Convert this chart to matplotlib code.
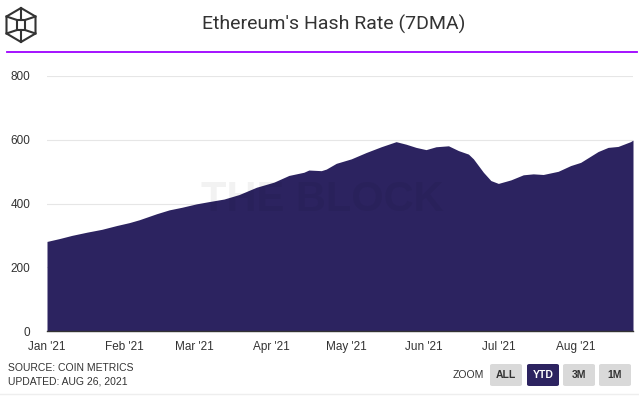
import matplotlib.pyplot as plt
from matplotlib.patches import FancyBboxPatch, Polygon
import pandas as pd

# 7-day moving average of Ethereum hash rate (TH/s)
dates = ["2021-01-01", "2021-01-06", "2021-01-11", "2021-01-17", "2021-01-23",
         "2021-01-29", "2021-02-03", "2021-02-07", "2021-02-14", "2021-02-19",
         "2021-02-24", "2021-03-02", "2021-03-07", "2021-03-13", "2021-03-19",
         "2021-03-26", "2021-04-02", "2021-04-08", "2021-04-14", "2021-04-16",
         "2021-04-21", "2021-04-23", "2021-04-27", "2021-05-03", "2021-05-09",
         "2021-05-15", "2021-05-21", "2021-05-25", "2021-05-29", "2021-06-02",
         "2021-06-06", "2021-06-11", "2021-06-15", "2021-06-19", "2021-06-21",
         "2021-06-25", "2021-06-28", "2021-07-01", "2021-07-06", "2021-07-11",
         "2021-07-15", "2021-07-19", "2021-07-25", "2021-07-30", "2021-08-03",
         "2021-08-10", "2021-08-14", "2021-08-18", "2021-08-23", "2021-08-24"]
hash_rate = [281, 290, 300, 310, 319,
             331, 340, 349, 368, 380,
             388, 399, 406, 414, 428,
             451, 467, 488, 498, 505,
             503, 508, 526, 540, 560,
             578, 594, 586, 576, 569,
             578, 581, 566, 555, 540,
             498, 472, 463, 474, 490,
             493, 491, 501, 519, 529,
             563, 576, 579, 594, 599]

yticks = [0, 200, 400, 600, 800]
month_ticks = ["2021-01-01", "2021-02-01", "2021-03-01", "2021-04-01",
               "2021-05-01", "2021-06-01", "2021-07-01", "2021-08-01"]
month_labels = ["Jan '21", "Feb '21", "Mar '21", "Apr '21",
                "May '21", "Jun '21", "Jul '21", "Aug '21"]

W, H = 639, 396
fill_color = "#2c2360"
text_color = "#333333"

fig = plt.figure(figsize=(W / 100, H / 100), dpi=100)
fig.patch.set_facecolor("white")

# header
fig.text(334 / W, 1 - 24 / H, "Ethereum's Hash Rate (7DMA)", ha="center", va="center",
         fontsize=14, color=text_color, family="Roboto")
fig.add_artist(plt.Line2D([7 / W, 637 / W], [1 - 52 / H, 1 - 52 / H],
                          color="#9d00ff", lw=1.3))

# logo (hexagonal cube outline)
cx, cy, r = 21, 25, 17
hw = 14.5
hexpts = [(cx, cy - r), (cx + hw, cy - r / 2), (cx + hw, cy + r / 2),
          (cx, cy + r), (cx - hw, cy + r / 2), (cx - hw, cy - r / 2)]
fig.add_artist(Polygon([(x / W, 1 - y / H) for x, y in hexpts], closed=True,
                       fill=False, ec="#333333", lw=1.5))
inner = [(cx - 4, cy - 5), (cx + 4, cy - 5), (cx + 4, cy + 5), (cx - 4, cy + 5)]
fig.add_artist(Polygon([(x / W, 1 - y / H) for x, y in inner], closed=True,
                       fill=False, ec="#333333", lw=1.5))
spokes = [(hexpts[0], (cx, cy - 5)), (hexpts[3], (cx, cy + 5)),
          (hexpts[1], (cx + 4, cy - 5)), (hexpts[2], (cx + 4, cy + 5)),
          (hexpts[4], (cx - 4, cy + 5)), (hexpts[5], (cx - 4, cy - 5))]
for (x1, y1), (x2, y2) in spokes:
    fig.add_artist(plt.Line2D([x1 / W, x2 / W], [1 - y1 / H, 1 - y2 / H],
                              color="#333333", lw=1.5))

# chart
ax = fig.add_axes([47 / W, 65 / H, (633 - 47) / W, (331 - 76) / H])
x = pd.to_datetime(dates)
ax.fill_between(x, hash_rate, 0, color=fill_color, lw=0, zorder=2)
ax.set_xlim(x[0], x[-1])
ax.set_ylim(0, 800)
ax.set_yticks(yticks)
ax.set_xticks(pd.to_datetime(month_ticks))
ax.set_xticklabels(month_labels)
ax.grid(axis="y", color="#e6e6e6", lw=0.8, zorder=0)
for s in ["top", "right", "left"]:
    ax.spines[s].set_visible(False)
ax.spines["bottom"].set_color("#333333")
ax.spines["bottom"].set_linewidth(1)
ax.spines["bottom"].set_zorder(3)
ax.tick_params(axis="both", length=0, labelsize=8.5, colors=text_color)
ax.tick_params(axis="y", pad=12)
ax.tick_params(axis="x", pad=7)
for lab in ax.get_xticklabels() + ax.get_yticklabels():
    lab.set_family("Liberation Sans")

# watermark
fig.text(322 / W, 1 - 200 / H, "THE BLOCK", ha="center", va="center", fontsize=30,
         fontweight="bold", color="black", alpha=0.05, family="Liberation Sans", zorder=5)

# footer
fig.text(8 / W, 1 - 368 / H, "SOURCE: COIN METRICS", ha="left", va="center",
         fontsize=7.5, color=text_color, family="Liberation Sans")
fig.text(8 / W, 1 - 381 / H, "UPDATED: AUG 26, 2021", ha="left", va="center",
         fontsize=7.5, color=text_color, family="Liberation Sans")
fig.text(484 / W, 1 - 375 / H, "ZOOM", ha="right", va="center",
         fontsize=7.5, color=text_color, family="Liberation Sans")

buttons = [("ALL", 490, False), ("YTD", 527, True), ("3M", 563, False), ("1M", 599, False)]
for label, bx, active in buttons:
    fig.add_artist(FancyBboxPatch((bx / W, 1 - 386 / H), 32 / W, 22 / H,
                                  boxstyle="round,pad=0,rounding_size=0.004",
                                  transform=fig.transFigure,
                                  fc=fill_color if active else "#d9d9d9", ec="none"))
    fig.text((bx + 16) / W, 1 - 375 / H, label, ha="center", va="center", fontsize=7.5,
             fontweight="bold", color="white" if active else text_color,
             family="Liberation Sans")

fig.add_artist(plt.Line2D([0, 1], [1 - 394 / H, 1 - 394 / H], color="#eeeeee", lw=1))

fig.savefig("out.png", dpi=100)
